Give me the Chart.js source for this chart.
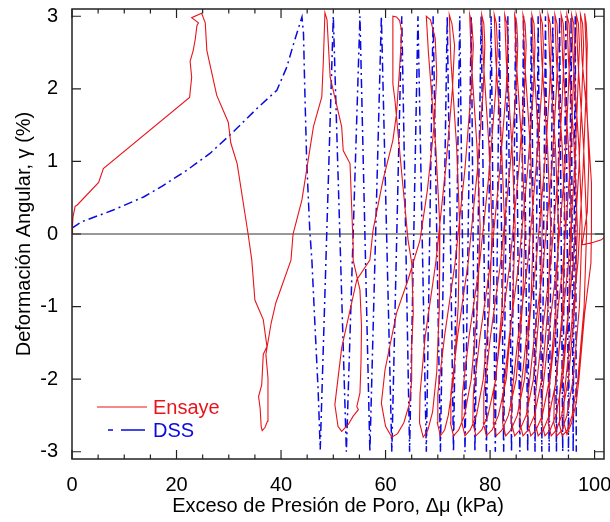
<!DOCTYPE html>
<html>
<head>
<meta charset="utf-8">
<script src="https://cdn.jsdelivr.net/npm/chart.js@4/dist/chart.umd.min.js"></script>
<style>
  html, body { margin: 0; padding: 0; background: #fff; }
  #wrap { width: 610px; height: 522px; }
</style>
</head>
<body>
<div id="wrap"><canvas id="myChart" width="610" height="522"></canvas></div>
<script>
// ticks
let xTicks = [0, 20, 40, 60, 80, 100];
let xMinor = [5, 10, 15, 25, 30, 35, 45, 50, 55, 65, 70, 75, 85, 90, 95];
let yTicks = [3, 2, 1, 0, -1, -2, -3];

// Ensaye: first cycles, read point by point
let ensayeInicio = [
  [0,0],[0.1,0.12],[0.2,0.24],[0.6,0.38],[1.0,0.4],[5.1,0.71],[6.0,0.9],[22.5,1.88],[22.9,2.16],[22.6,2.38],[23.2,2.53],[23.6,2.69],[23.9,2.87],[24.2,2.91],[22.9,2.98],[24.8,3.04],
  [25.5,2.91],[25.8,2.53],[27.7,1.91],[29.9,1.54],[30.4,1.25],[31.6,0.97],[33.7,0],[34.4,-0.36],[35.0,-0.91],[36.6,-1.18],[37.3,-1.55],[36.6,-1.66],[36.3,-2.08],[35.7,-2.24],[36.0,-2.4],[36.2,-2.65],[36.4,-2.71],
  [36.9,-2.67],[37.4,-2.58],[37.5,-1.98],[37.1,-1.66],[38.1,-1.23],[39.0,-0.95],[41.9,-0.36],[42.3,0],[44.0,0.47],[46.2,1.48],[47.8,1.89],[48.1,2.39],[48.4,3.05],
  [48.8,2.95],[49.4,2.16],[51.6,1.48],[51.9,1.15],[53.2,0.97],[53.8,-0.17],[53.8,-0.36],[55.1,-0.77],[55.4,-1.27],[55.3,-1.78],[55.1,-2.19],[54.5,-2.38],[54.8,-2.42],[53.8,-2.51],[52.9,-2.62],[51.6,-2.72],
  [50.9,-2.65],[50.3,-2.35],[51.6,-1.57],[54.5,-0.63],[57.0,-0.36],[57.6,0.05],[59.5,0.74],[61.4,1.29],[62.1,1.66],[62.7,2.3],[63.1,2.78],[62.7,2.94],[62.1,2.99],[61.4,3.0],
  [61.4,2.07],[61.8,1.84],[62.4,1.38],[63.1,0.83],[63.7,0.38],[64.3,-0.08],[65.0,-0.4],[65.3,-1.09],[65.0,-1.55],[65.0,-2.01],[64.6,-2.33],[63.5,-2.6],[62.3,-2.75],[61.2,-2.8],
  [60.0,-2.65],[59.2,-2.33],[59.9,-1.87],[62.1,-1.09],[64.3,-0.63],[66.6,-0.08],[68.0,0.6],[69.3,1.5],[69.8,2.2],[69.5,2.7],[68.6,2.95],[67.8,3.0]
];

// Ensaye: dense cycles (estimated)
let ensayeCiclos = [
  [68.2,2.5],[69.6,1.2],[70.4,0.1],[70.3,-1.0],[69.8,-1.9],[69.0,-2.45],[68.1,-2.7],[67.2,-2.8],
  [66.5,-2.6],[66.6,-2.2],[67.6,-1.4],[69.6,-0.4],[71.5,0.9],[72.8,2.0],[73.2,2.6],[72.7,2.9],[72.2,3.02],
  [72.5,2.4],[73.6,1.2],[74.2,0.1],[73.9,-1.0],[73.0,-2.0],[72.0,-2.5],[71.3,-2.7],[70.5,-2.78],
  [69.9,-2.6],[70.0,-2.2],[71.3,-1.4],[73.3,-0.4],[75.2,0.9],[76.4,2.0],[76.8,2.6],[76.5,2.9],[76.1,3.02],
  [76.4,2.4],[77.5,1.2],[78.1,0.1],[77.6,-1.0],[76.4,-2.0],[75.1,-2.5],[74.0,-2.7],[73.0,-2.78],
  [72.4,-2.6],[72.5,-2.2],[73.8,-1.4],[75.8,-0.4],[77.6,0.9],[78.7,2.0],[79.0,2.6],[78.8,2.9],[78.4,3.02],
  [78.7,2.4],[79.8,1.2],[80.4,0.1],[79.9,-1.0],[78.7,-2.0],[77.4,-2.5],[76.2,-2.7],[75.2,-2.78],
  [74.6,-2.6],[74.7,-2.2],[76.0,-1.4],[78.0,-0.4],[79.9,0.9],[81.1,2.0],[81.4,2.6],[81.2,2.9],[80.8,3.02],
  [81.1,2.4],[82.2,1.2],[82.8,0.1],[82.3,-1.0],[81.1,-2.0],[79.6,-2.5],[78.4,-2.7],[77.3,-2.78],
  [76.7,-2.6],[76.8,-2.2],[78.1,-1.4],[80.1,-0.4],[81.9,0.9],[83.1,2.0],[83.4,2.6],[83.2,2.9],[82.8,3.02],
  [83.1,2.4],[84.2,1.2],[84.8,0.1],[84.3,-1.0],[83.1,-2.0],[81.6,-2.5],[80.4,-2.7],[79.3,-2.78],
  [78.7,-2.6],[78.8,-2.2],[80.1,-1.4],[82.0,-0.4],[83.8,0.9],[85.0,2.0],[85.3,2.6],[85.1,2.9],[84.7,3.02],
  [85.0,2.4],[86.1,1.2],[86.7,0.1],[86.2,-1.0],[85.0,-2.0],[83.5,-2.5],[82.3,-2.7],[81.2,-2.78],
  [80.6,-2.6],[80.7,-2.2],[82.0,-1.4],[83.8,-0.4],[85.5,0.9],[86.6,2.0],[86.9,2.6],[86.7,2.9],[86.3,3.02],
  [86.6,2.4],[87.7,1.2],[88.3,0.1],[87.8,-1.0],[86.6,-2.0],[85.2,-2.5],[84.0,-2.7],[83.0,-2.78],
  [82.4,-2.6],[82.5,-2.2],[83.7,-1.4],[85.5,-0.4],[87.2,0.9],[88.3,2.0],[88.6,2.6],[88.4,2.9],[88.0,3.02],
  [88.3,2.4],[89.4,1.2],[90.0,0.1],[89.5,-1.0],[88.3,-2.0],[86.9,-2.5],[85.7,-2.7],[84.7,-2.78],
  [84.1,-2.6],[84.2,-2.2],[85.4,-1.4],[87.2,-0.4],[88.8,0.9],[89.9,2.0],[90.2,2.6],[90.0,2.9],[89.6,3.02],
  [89.9,2.4],[91.0,1.2],[91.6,0.1],[91.1,-1.0],[89.9,-2.0],[88.5,-2.5],[87.3,-2.7],[86.3,-2.78],
  [85.7,-2.6],[85.8,-2.2],[87.0,-1.4],[88.8,-0.4],[90.4,0.9],[91.4,2.0],[91.7,2.6],[91.5,2.9],[91.1,3.02],
  [91.4,2.4],[92.5,1.2],[93.1,0.1],[92.6,-1.0],[91.4,-2.0],[90.0,-2.5],[88.8,-2.7],[87.8,-2.78],
  [87.2,-2.6],[87.3,-2.2],[88.5,-1.4],[90.2,-0.4],[91.8,0.9],[92.7,2.0],[93.0,2.6],[92.8,2.9],[92.4,3.02],
  [92.7,2.4],[93.8,1.2],[94.4,0.1],[93.9,-1.0],[92.7,-2.0],[91.3,-2.5],[90.2,-2.7],[89.2,-2.78],
  [88.6,-2.6],[88.7,-2.2],[89.9,-1.4],[91.6,-0.4],[93.1,0.9],[93.9,2.0],[94.2,2.6],[94.0,2.9],[93.6,3.02],
  [93.9,2.4],[95.0,1.2],[95.6,0.1],[95.1,-1.0],[93.9,-2.0],[92.6,-2.5],[91.5,-2.7],[90.5,-2.78],
  [89.9,-2.6],[90.0,-2.2],[91.2,-1.4],[92.8,-0.4],[94.3,0.9],[95.0,2.0],[95.3,2.6],[95.1,2.9],[94.7,3.02],
  [95.0,2.4],[96.1,1.2],[96.7,0.1],[96.2,-1.0],[95.0,-2.0],[93.7,-2.5],[92.7,-2.7],[91.7,-2.78],
  [91.1,-2.6],[91.2,-2.2],[92.4,-1.4],[94.0,-0.4],[95.3,0.9],[95.9,2.0],[96.2,2.6],[96.0,2.9],[95.6,3.02],
  [95.9,2.4],[97.0,1.2],[97.6,0.1],[97.1,-1.0],[95.9,-2.0],[94.7,-2.5],[93.8,-2.7],[92.8,-2.78],
  [92.2,-2.6],[92.3,-2.2],[93.5,-1.4],[95.0,-0.4],[96.2,0.9],[96.8,2.0],[97.1,2.6],[96.9,2.9],[96.5,3.02],
  [96.8,2.4],[97.9,1.2],[98.5,0.1],[98.0,-1.0],[96.8,-2.0],[95.7,-2.5],[94.8,-2.7],[93.8,-2.78],
  [93.2,-2.6],[93.3,-2.2],[94.5,-1.4],[95.9,-0.4],[97.0,0.9],[97.6,2.0],[97.9,2.6],[97.7,2.9],[97.3,3.02],
  [97.6,2.4],[98.6,1.6],[99.4,0.7],[99.4,0.05],[99.3,-0.4],[98.1,-1.09],[97.0,-2.0],[96.5,-2.32],[95.6,-2.6],[94.7,-2.76],
  [94.1,-2.6],[94.2,-2.2],[95.4,-1.4],[96.8,-0.4],[97.8,0.9],[98.4,2.0],[98.6,2.6],[98.4,2.9],[98.1,3.04],
  [98.4,2.5],[98.5,1.84],[98.9,1.0],[98.6,0.3],[97.6,-0.15],[99.5,-0.12],[101.3,-0.08],[101.8,-0.05]
];

// DSS: first loading branch
let dssInicio = [
  [0,0.08],[1.9,0.17],[7.9,0.33],[13.7,0.51],[17.5,0.67],[22,0.88],[26.4,1.11],[30.9,1.41],[35.4,1.73],[39.2,1.98],[41.1,2.3],[42.4,2.62],[44.0,2.99],
  [44.3,2.76],[44.5,2.12],[44.9,1.02],[45.5,0.05],[45.9,-0.36],[46.5,-1.27],[47.1,-2.15],[47.5,-2.97]
];
// DSS: strain controlled cycles, peaks and troughs
let dssCiclos = [
  [50.0,3],[52.5,-3],[55.1,3],[57.0,-3],[59.2,3],[61.2,-3],[63.1,3],[64.6,-3],[66.2,3],[67.8,-3],
  [69.1,3],[70.5,-3],[71.8,3],[73.0,-3],[74.2,3],[75.2,-3],[76.4,3],[77.1,-3],[78.3,3],[79.3,-3],
  [80.2,3],[81.0,-3],[81.8,3],[82.6,-3],[83.4,3],[84.1,-3],[84.9,3],[85.7,-3],[86.4,3],[87.2,-3],
  [87.9,3],[88.6,-3],[89.2,3],[89.9,-3],[90.6,3],[91.3,-3],[92.0,3],[92.7,-3],[93.3,3],[93.9,-3],
  [94.5,3],[95.0,-3],[95.5,3],[95.9,-3],[96.3,3],[96.5,-3]
];

let rojo = '#e8141b';
let azul = '#0a0ae0';

function toPoints(list) {
  return list.map(function(p) { return {x: p[0], y: p[1]}; });
}

let marco = {
  id: 'marco',
  beforeDatasetsDraw(chart) {
    let ctx = chart.ctx;
    let a = chart.chartArea;
    let y0 = chart.scales.y.getPixelForValue(0);
    ctx.save();
    ctx.strokeStyle = '#333';
    ctx.lineWidth = 1;
    ctx.beginPath();
    ctx.moveTo(a.left, y0);
    ctx.lineTo(a.right, y0);
    ctx.stroke();
    ctx.restore();
  },
  afterDatasetsDraw(chart) {
    let ctx = chart.ctx;
    let a = chart.chartArea;
    let sx = chart.scales.x;
    let sy = chart.scales.y;
    ctx.save();
    ctx.strokeStyle = '#222';
    ctx.lineWidth = 1.5;
    ctx.strokeRect(a.left, a.top, a.right - a.left, a.bottom - a.top);
    ctx.lineWidth = 1.2;
    ctx.beginPath();
    xTicks.forEach(function(v) {
      let px = sx.getPixelForValue(v);
      ctx.moveTo(px, a.bottom); ctx.lineTo(px, a.bottom - 9);
      ctx.moveTo(px, a.top); ctx.lineTo(px, a.top + 9);
    });
    xMinor.forEach(function(v) {
      let px = sx.getPixelForValue(v);
      ctx.moveTo(px, a.bottom); ctx.lineTo(px, a.bottom - 4.5);
      ctx.moveTo(px, a.top); ctx.lineTo(px, a.top + 4.5);
    });
    yTicks.forEach(function(v) {
      let py = sy.getPixelForValue(v);
      ctx.moveTo(a.left, py); ctx.lineTo(a.left + 9, py);
      ctx.moveTo(a.right, py); ctx.lineTo(a.right - 9, py);
    });
    ctx.stroke();

    // legend
    let lx = a.left + 25;
    let ly = a.top + 398;
    ctx.lineWidth = 1.2;
    ctx.strokeStyle = rojo;
    ctx.beginPath();
    ctx.moveTo(lx, ly); ctx.lineTo(lx + 50, ly);
    ctx.stroke();
    ctx.strokeStyle = azul;
    ctx.lineWidth = 1.5;
    ctx.beginPath();
    ctx.moveTo(lx + 11, ly + 23); ctx.lineTo(lx + 16, ly + 23);
    ctx.moveTo(lx + 24, ly + 23); ctx.lineTo(lx + 48, ly + 23);
    ctx.stroke();
    ctx.font = '20px "Liberation Sans", Arial, sans-serif';
    ctx.textBaseline = 'middle';
    ctx.textAlign = 'left';
    ctx.fillStyle = rojo;
    ctx.fillText('Ensaye', lx + 56, ly + 1);
    ctx.fillStyle = azul;
    ctx.fillText('DSS', lx + 56, ly + 24);
    ctx.restore();
  }
};

Chart.defaults.font.family = '"Liberation Sans", Arial, sans-serif';
Chart.defaults.font.size = 20;
Chart.defaults.color = '#000';

let ctx = document.getElementById('myChart').getContext('2d');
let myChart = new Chart(ctx, {
  type: 'scatter',
  data: {
    datasets: [{
      label: 'Ensaye',
      data: toPoints(ensayeInicio.concat(ensayeCiclos)),
      showLine: true,
      borderColor: rojo,
      borderWidth: 1.1,
      pointRadius: 0,
      tension: 0,
    }, {
      label: 'DSS',
      data: toPoints(dssInicio.concat(dssCiclos)),
      showLine: true,
      borderColor: azul,
      borderWidth: 1.5,
      borderDash: [9, 4, 2, 4],
      pointRadius: 0,
      tension: 0,
    }],
  },
  options: {
    responsive: false,
    animation: false,
    devicePixelRatio: 1,
    layout: { padding: { top: 9, right: 6, left: 0, bottom: 0 } },
    plugins: {
      legend: { display: false },
      tooltip: { enabled: false },
    },
    scales: {
      x: {
        type: 'linear',
        min: 0,
        max: 101.8,
        afterBuildTicks: function(axis) {
          axis.ticks = xTicks.map(function(v) { return {value: v}; });
        },
        afterFit: function(axis) {
          axis.height = 63;
          axis.paddingLeft = 0;
          axis.paddingRight = 0;
        },
        grid: { display: false, drawTicks: false },
        border: { display: false },
        ticks: { padding: 14, maxRotation: 0, autoSkip: false },
        title: {
          display: true,
          text: 'Exceso de Presión de Poro, Δμ (kPa)',
          padding: { top: 4, bottom: 4 },
        },
      },
      y: {
        type: 'linear',
        min: -3.1,
        max: 3.1,
        afterBuildTicks: function(axis) {
          axis.ticks = yTicks.map(function(v) { return {value: v}; });
        },
        afterFit: function(axis) {
          axis.width = 72;
          axis.paddingTop = 0;
          axis.paddingBottom = 0;
        },
        grid: { display: false, drawTicks: false },
        border: { display: false },
        ticks: { padding: 14, autoSkip: false },
        title: {
          display: true,
          text: 'Deformación Angular, γ (%)',
          padding: { top: 12, bottom: 4 },
        },
      },
    },
  },
  plugins: [marco],
});
</script>
</body>
</html>
